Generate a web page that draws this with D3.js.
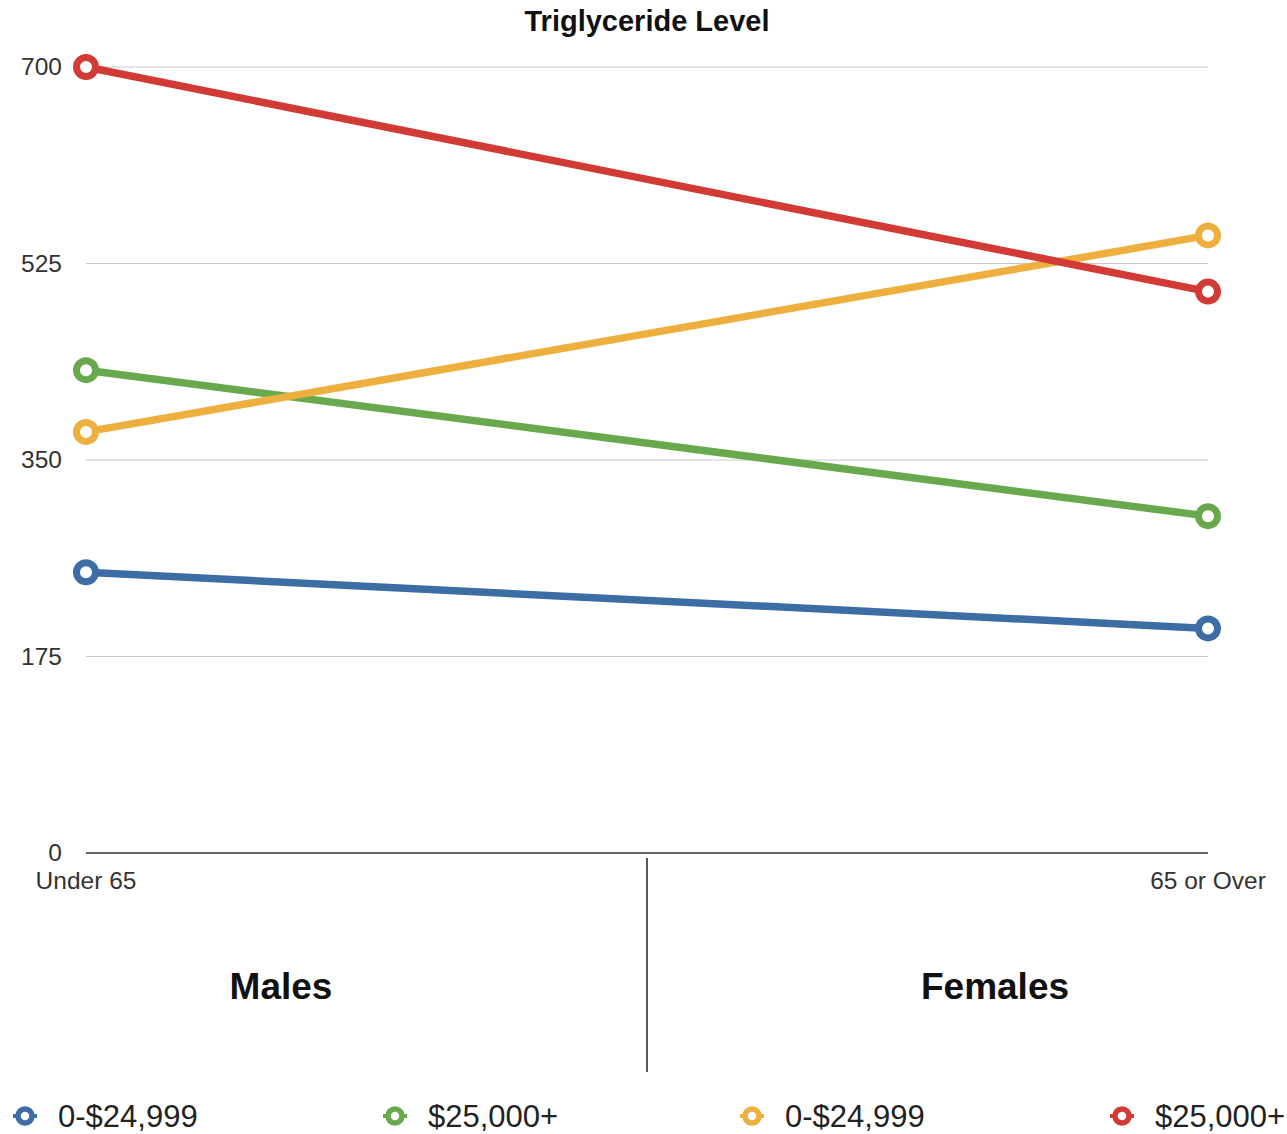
<!DOCTYPE html>
<html><head><meta charset="utf-8">
<script src="https://cdn.jsdelivr.net/npm/d3@7"></script>
<style>html,body{margin:0;padding:0;background:#fff;}svg{display:block;font-family:"Liberation Sans",Arial,Helvetica,sans-serif;}</style>
</head><body>
<svg id="c" width="1287" height="1134"></svg>
<script>
const categories = ["Under 65", "65 or Over"];
const seriesNames = ["0-$24,999", "$25,000+", "0-$24,999", "$25,000+"];
const seriesColors = ["#3d6da5", "#68a94e", "#edb03e", "#d13a35"];
const maleLow = [250, 200];
const maleHigh = [430, 300];
const femaleLow = [375, 550];
const femaleHigh = [700, 500];
const yTicks = [0, 175, 350, 525, 700];
const groupLabels = ["Males", "Females"];
const title = "Triglyceride Level";

const series = [maleLow, maleHigh, femaleLow, femaleHigh];
const svg = d3.select("#c");
const x = d3.scalePoint().domain(categories).range([86, 1208]);
const y = d3.scaleLinear().domain([0, 700]).range([853, 67]);

svg.append("text").attr("x", 647).attr("y", 31).attr("text-anchor", "middle")
  .attr("font-size", 29).attr("font-weight", "bold").attr("fill", "#111").text(title);

// grid
svg.append("g").selectAll("line").data(yTicks.filter(d => d > 0)).join("line")
  .attr("x1", 86).attr("x2", 1208).attr("y1", d => y(d)).attr("y2", d => y(d))
  .attr("stroke", "#c8c8c8").attr("stroke-width", 1.2);
// axis baseline
svg.append("line").attr("x1", 86).attr("x2", 1208).attr("y1", y(0)).attr("y2", y(0))
  .attr("stroke", "#333").attr("stroke-width", 1.5);

svg.append("g").selectAll("text").data(yTicks).join("text")
  .attr("x", 62).attr("y", d => y(d) + 8).attr("text-anchor", "end")
  .attr("font-size", 24.5).attr("fill", "#333").text(d => d);

svg.append("g").selectAll("text").data(categories).join("text")
  .attr("x", d => x(d)).attr("y", 889).attr("text-anchor", "middle")
  .attr("font-size", 24.5).attr("fill", "#333").text(d => d);

// divider
svg.append("line").attr("x1", 647).attr("x2", 647).attr("y1", 858).attr("y2", 1072)
  .attr("stroke", "#222").attr("stroke-width", 1.5);
svg.append("g").selectAll("text").data(groupLabels).join("text")
  .attr("x", (d, i) => [281, 995][i]).attr("y", 999).attr("text-anchor", "middle")
  .attr("font-size", 37).attr("font-weight", "bold").attr("fill", "#111").text(d => d);

const line = d3.line().x((d, i) => x(categories[i])).y(d => y(d));
series.forEach((s, k) => {
  const g = svg.append("g");
  g.append("path").attr("d", line(s)).attr("fill", "none")
    .attr("stroke", seriesColors[k]).attr("stroke-width", 7.5);
  g.selectAll("circle").data(s).join("circle")
    .attr("cx", (d, i) => x(categories[i])).attr("cy", d => y(d)).attr("r", 9.5)
    .attr("fill", "#fff").attr("stroke", seriesColors[k]).attr("stroke-width", 7);
});

// legend
const lx = [25, 395, 752, 1122];
const lg = svg.append("g").selectAll("g").data(seriesNames).join("g")
  .attr("transform", (d, i) => `translate(${lx[i]},1116)`);
lg.append("line").attr("x1", -12).attr("x2", 12)
  .attr("stroke", (d, i) => seriesColors[i]).attr("stroke-width", 4);
lg.append("circle").attr("r", 7).attr("fill", "#fff")
  .attr("stroke", (d, i) => seriesColors[i]).attr("stroke-width", 5.5);
lg.append("text").attr("x", 33).attr("y", 11).attr("font-size", 31).attr("fill", "#222").text(d => d);
</script>
</body></html>
